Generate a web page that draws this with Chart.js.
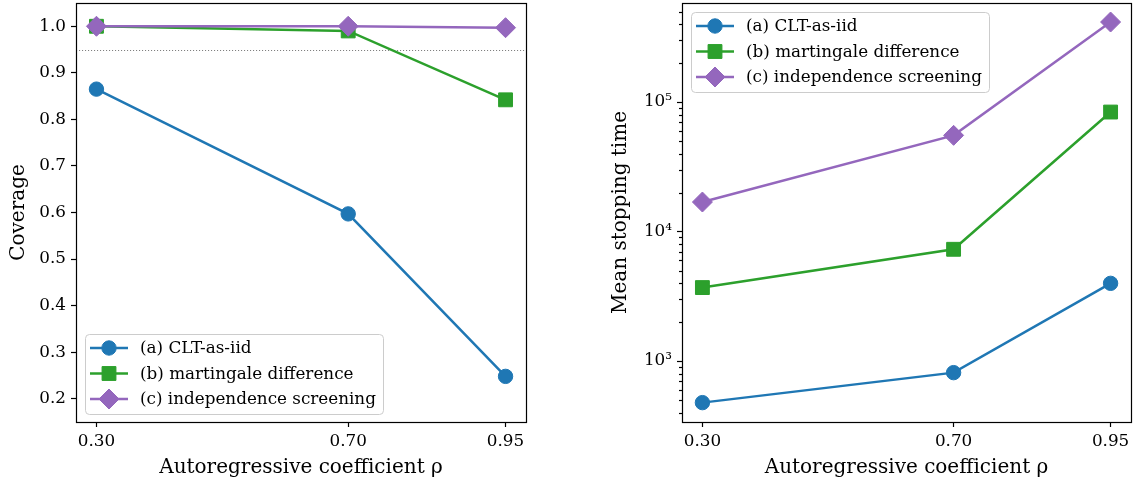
<!DOCTYPE html>
<html>
<head>
<meta charset="utf-8">
<script src="https://cdn.jsdelivr.net/npm/chart.js@4.4.1/dist/chart.umd.min.js"></script>
<style>
  html, body { margin: 0; padding: 0; background: #fff; }
  #wrap { position: relative; width: 1134px; height: 485px; overflow: hidden; }
  .panel { position: absolute; top: 0; height: 485px; }
  #panel-left { left: 0; width: 560px; }
  #panel-right { left: 560px; width: 574px; }
</style>
</head>
<body>
<div id="wrap">
  <div class="panel" id="panel-left"><canvas id="chart-coverage"></canvas></div>
  <div class="panel" id="panel-right"><canvas id="chart-stopping"></canvas></div>
</div>
<script>
// data
const rho = [0.30, 0.70, 0.95];
const rhoLabels = ['0.30', '0.70', '0.95'];
const seriesNames = ['(a) CLT-as-iid', '(b) martingale difference', '(c) independence screening'];

const coverageClt = [0.865, 0.597, 0.248];
const coverageMds = [1.000, 0.990, 0.842];
const coverageInd = [1.000, 1.000, 0.997];
const coverageTicks = [0.2, 0.3, 0.4, 0.5, 0.6, 0.7, 0.8, 0.9, 1.0];
const coverageTickLabels = ['0.2', '0.3', '0.4', '0.5', '0.6', '0.7', '0.8', '0.9', '1.0'];
const nominalLevel = 0.95;

const stopClt = [477, 813, 3980];
const stopMds = [3690, 7290, 83700];
const stopInd = [16900, 55300, 415000];
const stopTicks = [1e3, 1e4, 1e5];
const stopTickLabels = ['10³', '10⁴', '10⁵'];

const FONT = '"DejaVu Serif", "Liberation Serif", serif';
const TICK_SIZE = 16.8;
const LABEL_SIZE = 20;

const STYLE = [
  { color: '#1f77b4', pointStyle: 'circle', radius: 7.2 },
  { color: '#2ca02c', pointStyle: 'rect', radius: 9.8 },
  { color: '#9467bd', pointStyle: 'rectRot', radius: 10 }
];

function makeDatasets(lists) {
  return lists.map((vals, i) => ({
    label: seriesNames[i],
    data: rho.map((x, j) => ({ x: x, y: vals[j] })),
    borderColor: STYLE[i].color,
    backgroundColor: STYLE[i].color,
    borderWidth: 2.5,
    pointStyle: STYLE[i].pointStyle,
    pointRadius: STYLE[i].radius,
    pointBackgroundColor: STYLE[i].color,
    pointBorderColor: STYLE[i].color,
    pointBorderWidth: 1,
    order: lists.length - i,
    tension: 0
  }));
}

// frame + dotted reference line + minor log ticks
const axesDecor = {
  id: 'axesDecor',
  beforeDatasetsDraw(chart, args, opts) {
    const ctx = chart.ctx, a = chart.chartArea;
    if (opts.hline != null) {
      const y = Math.round(chart.scales.y.getPixelForValue(opts.hline)) + 0.5;
      ctx.save();
      ctx.strokeStyle = '#808080';
      ctx.lineWidth = 1.1;
      ctx.setLineDash([1.1, 1.9]);
      ctx.beginPath();
      ctx.moveTo(a.left, y);
      ctx.lineTo(a.right, y);
      ctx.stroke();
      ctx.restore();
    }
  },
  afterDatasetsDraw(chart, args, opts) {
    const ctx = chart.ctx, a = chart.chartArea;
    ctx.save();
    ctx.strokeStyle = '#000';
    ctx.lineWidth = 1.2;
    ctx.strokeRect(Math.round(a.left) + 0.5, Math.round(a.top) + 0.5,
      Math.round(a.right - a.left), Math.round(a.bottom - a.top));
    if (opts.minorLog) {
      const ys = chart.scales.y;
      for (let d = -1; d <= 7; d++) {
        for (let m = 2; m <= 9; m++) {
          const v = m * Math.pow(10, d);
          if (v < ys.min || v > ys.max) continue;
          const py = Math.round(ys.getPixelForValue(v)) + 0.5;
          ctx.beginPath();
          ctx.moveTo(a.left - 3, py);
          ctx.lineTo(a.left, py);
          ctx.stroke();
        }
      }
    }
    ctx.restore();
  }
};

// matplotlib-like legend box inside the axes
const boxLegend = {
  id: 'boxLegend',
  afterDraw(chart, args, opts) {
    const ctx = chart.ctx, a = chart.chartArea;
    const items = chart.data.datasets;
    ctx.save();
    ctx.font = TICK_SIZE + 'px ' + FONT;
    const textW = Math.max(...items.map(d => ctx.measureText(d.label).width));
    const w = Math.round(55 + textW + 7);
    const h = 80;
    const x0 = Math.round(a.left) + 9;
    const y0 = opts.corner === 'lower' ? Math.round(a.bottom) - 8 - h : Math.round(a.top) + 9;
    ctx.beginPath();
    ctx.roundRect(x0 + 0.5, y0 + 0.5, w, h, 4);
    ctx.fillStyle = 'rgba(255,255,255,0.8)';
    ctx.fill();
    ctx.strokeStyle = '#cccccc';
    ctx.lineWidth = 1;
    ctx.stroke();
    items.forEach((d, i) => {
      const cy = y0 + 14 + i * 25.5;
      ctx.strokeStyle = d.borderColor;
      ctx.lineWidth = d.borderWidth;
      ctx.beginPath();
      ctx.moveTo(x0 + 5, cy);
      ctx.lineTo(x0 + 43, cy);
      ctx.stroke();
      ctx.fillStyle = d.pointBackgroundColor;
      ctx.lineWidth = d.pointBorderWidth;
      Chart.helpers.drawPoint(ctx, { pointStyle: d.pointStyle, radius: d.pointRadius, borderWidth: d.pointBorderWidth, rotation: 0 }, x0 + 24, cy);
      ctx.fillStyle = '#000';
      ctx.textBaseline = 'middle';
      ctx.fillText(d.label, x0 + 55, cy + 1);
    });
    ctx.restore();
  }
};

function xScale() {
  return {
    type: 'linear',
    min: 0.2675,
    max: 0.9825,
    afterBuildTicks: s => { s.ticks = rho.map(v => ({ value: v })); },
    afterFit: s => { s.height = 63; s.paddingLeft = 0; s.paddingRight = 0; },
    border: { display: false },
    grid: { drawOnChartArea: false, drawTicks: true, tickLength: 5, tickColor: '#000', tickWidth: 1.2 },
    ticks: {
      autoSkip: false, maxRotation: 0, padding: 5, color: '#000',
      font: { family: FONT, size: TICK_SIZE },
      callback: (v, i) => rhoLabels[i]
    },
    title: {
      display: true, text: 'Autoregressive coefficient ρ', color: '#000',
      font: { family: FONT, size: LABEL_SIZE, lineHeight: 1.2 },
      padding: { top: 0, bottom: 5 }
    }
  };
}

function baseOptions() {
  return {
    responsive: true,
    maintainAspectRatio: false,
    animation: false,
    events: [],
    plugins: { legend: { display: false }, tooltip: { enabled: false } }
  };
}

// left: coverage
const optLeft = baseOptions();
optLeft.layout = { autoPadding: false, padding: { left: 0, right: 34, top: 3, bottom: 0 } };
optLeft.plugins.axesDecor = { hline: nominalLevel };
optLeft.plugins.boxLegend = { corner: 'lower' };
optLeft.scales = {
  x: xScale(),
  y: {
    type: 'linear',
    min: 0.15,
    max: 1.05,
    afterBuildTicks: s => { s.ticks = coverageTicks.map(v => ({ value: v })); },
    afterFit: s => { s.width = 76; s.paddingTop = 0; s.paddingBottom = 0; },
    border: { display: false },
    grid: { drawOnChartArea: false, drawTicks: true, tickLength: 5, tickColor: '#000', tickWidth: 1.2 },
    ticks: {
      autoSkip: false, padding: 5, color: '#000',
      font: { family: FONT, size: TICK_SIZE },
      callback: (v, i) => coverageTickLabels[i]
    },
    title: {
      display: true, text: 'Coverage', color: '#000',
      font: { family: FONT, size: LABEL_SIZE, lineHeight: 1.2 },
      padding: { top: 7, bottom: 0 }
    }
  }
};

new Chart(document.getElementById('chart-coverage'), {
  type: 'line',
  data: { datasets: makeDatasets([coverageClt, coverageMds, coverageInd]) },
  options: optLeft,
  plugins: [axesDecor, boxLegend]
});

// right: mean stopping time (log)
const optRight = baseOptions();
optRight.layout = { autoPadding: false, padding: { left: 0, right: 3, top: 3, bottom: 0 } };
optRight.plugins.axesDecor = { minorLog: true };
optRight.plugins.boxLegend = { corner: 'upper' };
optRight.scales = {
  x: xScale(),
  y: {
    type: 'logarithmic',
    min: 338,
    max: 582000,
    afterBuildTicks: s => { s.ticks = stopTicks.map(v => ({ value: v })); },
    afterFit: s => { s.width = 122; s.paddingTop = 0; s.paddingBottom = 0; },
    border: { display: false },
    grid: { drawOnChartArea: false, drawTicks: true, tickLength: 5, tickColor: '#000', tickWidth: 1.2 },
    ticks: {
      autoSkip: false, padding: 5, color: '#000',
      font: { family: FONT, size: TICK_SIZE },
      callback: (v, i) => stopTickLabels[i]
    },
    title: {
      display: true, text: 'Mean stopping time', color: '#000',
      font: { family: FONT, size: LABEL_SIZE, lineHeight: 1.2 },
      padding: { top: 49, bottom: 0 }
    }
  }
};

new Chart(document.getElementById('chart-stopping'), {
  type: 'line',
  data: { datasets: makeDatasets([stopClt, stopMds, stopInd]) },
  options: optRight,
  plugins: [axesDecor, boxLegend]
});
</script>
</body>
</html>
